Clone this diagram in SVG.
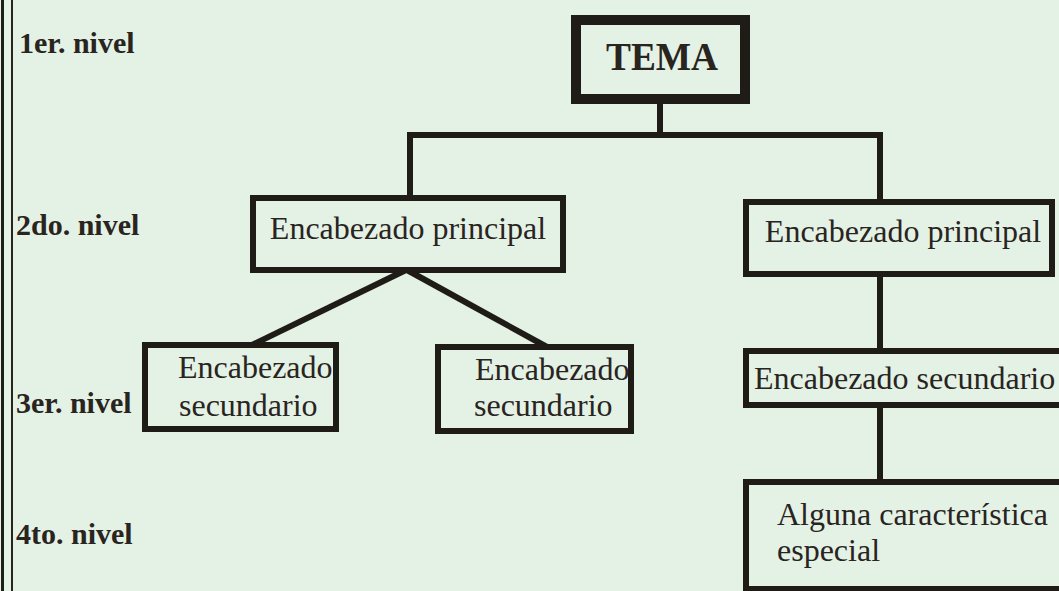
<svg xmlns="http://www.w3.org/2000/svg" width="1059" height="591" viewBox="0 0 1059 591">
<style>
.box{fill:none;stroke:#1f1b17;stroke-width:6}
.conn{fill:none;stroke:#1f1b17;stroke-width:6;stroke-linejoin:miter;stroke-linecap:butt}
.t{font-family:"Liberation Serif","Times New Roman",serif;font-size:32px;fill:#2a241f}
.lvl{font-family:"Liberation Serif","Times New Roman",serif;font-size:30px;font-weight:bold;fill:#2a241f}
</style>
<rect x="0" y="0" width="1059" height="591" fill="#e3f2e5"/>
<g id="border">
<line x1="2.5" y1="0" x2="2.5" y2="591" stroke="#1f1b17" stroke-width="3"/>
<line x1="12" y1="0" x2="12" y2="591" stroke="#2a241f" stroke-width="2"/>
</g>
<g id="levels">
<text class="lvl" x="19" y="53">1er. nivel</text>
<text class="lvl" x="16" y="235">2do. nivel</text>
<text class="lvl" x="16" y="413">3er. nivel</text>
<text class="lvl" x="16" y="544">4to. nivel</text>
</g>
<g id="connectors">
<path class="conn" d="M660 104 V135"/>
<path class="conn" d="M410 198 V135 H880 V202"/>
<path class="conn" stroke-width="5" d="M406 270 L252 345"/>
<path class="conn" stroke-width="5" d="M407 270 L547 347"/>
<path class="conn" d="M880 274 V351"/>
<path class="conn" d="M880 405 V482"/>
</g>
<g id="tema">
<rect x="576" y="20" width="169" height="79" fill="none" stroke="#1f1b17" stroke-width="10"/>
<text x="662" y="70" text-anchor="middle" font-family="Liberation Serif, Times New Roman, serif" font-size="40" font-weight="bold" fill="#2a241f" textLength="112" lengthAdjust="spacingAndGlyphs">TEMA</text>
</g>
<g id="principal-left">
<rect class="box" x="253" y="198" width="310" height="72"/>
<text class="t" x="408" y="239" text-anchor="middle">Encabezado principal</text>
</g>
<g id="principal-right">
<rect class="box" x="746" y="202" width="306" height="72"/>
<text class="t" x="903" y="242" text-anchor="middle">Encabezado principal</text>
</g>
<g id="secundario-a">
<rect class="box" x="145" y="345" width="191" height="84"/>
<text class="t" x="178" y="378">Encabezado</text>
<text class="t" x="179" y="416">secundario</text>
</g>
<g id="secundario-b">
<rect class="box" x="438" y="347" width="193" height="84"/>
<text class="t" x="475" y="380">Encabezado</text>
<text class="t" x="474" y="416">secundario</text>
</g>
<g id="secundario-right">
<rect class="box" x="746" y="351" width="340" height="54"/>
<text class="t" x="754" y="389">Encabezado secundario</text>
</g>
<g id="especial">
<rect class="box" x="746" y="482" width="340" height="107"/>
<text class="t" x="777" y="525">Alguna característica</text>
<text class="t" x="777" y="561">especial</text>
</g>
</svg>
